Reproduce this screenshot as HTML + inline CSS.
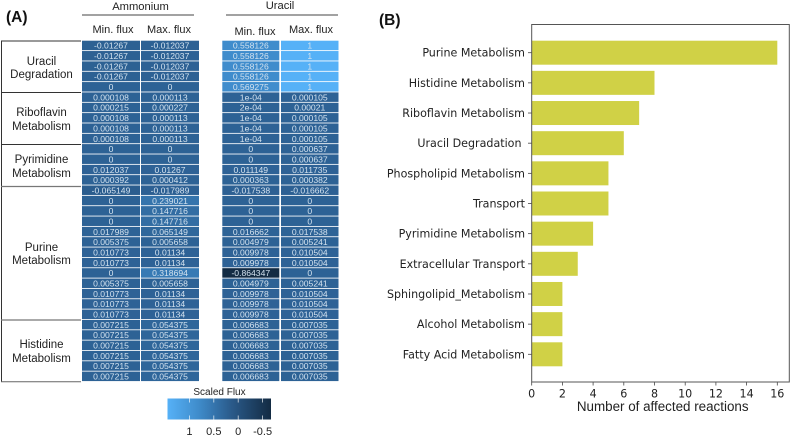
<!DOCTYPE html>
<html lang="en">
<head>
<meta charset="utf-8">
<title>Flux heatmap and affected reactions</title>
<style>
html,body{margin:0;padding:0;background:#fff;width:793px;height:436px;overflow:hidden}
svg{display:block;font-family:"Liberation Sans",sans-serif}
</style>
</head>
<body>
<svg id="fig" width="793" height="436" viewBox="0 0 793 436" xmlns="http://www.w3.org/2000/svg">
  <defs>
    <linearGradient id="legendGrad" x1="0" x2="1" y1="0" y2="0">
      <stop offset="0" stop-color="#56b1f7"/>
      <stop offset="0.3" stop-color="#3f8ccb"/>
      <stop offset="0.62" stop-color="#2a5a8a"/>
      <stop offset="1" stop-color="#132b43"/>
    </linearGradient>
  </defs>
  <text x="6" y="22" font-size="15.5" font-weight="bold" fill="#111">(A)</text>
  <text x="379" y="25" font-size="15.5" font-weight="bold" fill="#111">(B)</text>

  <text x="140.5" y="10" font-size="11.2" text-anchor="middle" fill="#222">Ammonium</text>
  <line x1="82" x2="194" y1="15" y2="15" stroke="#444" stroke-width="1"/>
  <text x="280" y="9" font-size="11.2" text-anchor="middle" fill="#222">Uracil</text>
  <line x1="226" x2="338" y1="15" y2="15" stroke="#444" stroke-width="1"/>
  <text x="113" y="33" font-size="11" text-anchor="middle" fill="#222">Min. flux</text>
  <text x="169" y="33" font-size="11" text-anchor="middle" fill="#222">Max. flux</text>
  <text x="255" y="35" font-size="11" text-anchor="middle" fill="#222">Min. flux</text>
  <text x="311" y="33" font-size="11" text-anchor="middle" fill="#222">Max. flux</text>

  <g fill="#222" font-size="11.5" text-anchor="middle">
    <line x1="1.5" x2="1.5" y1="41" y2="382" stroke="#333" stroke-width="1"/>
    <line x1="1" x2="81" y1="41" y2="41" stroke="#333" stroke-width="1"/>
    <line x1="1" x2="81" y1="92.5" y2="92.5" stroke="#333" stroke-width="1"/>
    <line x1="1" x2="81" y1="144.5" y2="144.5" stroke="#333" stroke-width="1"/>
    <line x1="1" x2="81" y1="186.5" y2="186.5" stroke="#777" stroke-width="1.2"/>
    <line x1="1" x2="81" y1="320" y2="320" stroke="#777" stroke-width="1.2"/>
    <line x1="1" x2="81" y1="381.7" y2="381.7" stroke="#666" stroke-width="1"/>
    <text x="41.5" y="65">Uracil</text>
    <text x="41.5" y="78">Degradation</text>
    <text x="41.5" y="116">Riboflavin</text>
    <text x="41.5" y="130">Metabolism</text>
    <text x="41.5" y="163">Pyrimidine</text>
    <text x="41.5" y="177">Metabolism</text>
    <text x="41.5" y="251">Purine</text>
    <text x="41.5" y="264">Metabolism</text>
    <text x="41.5" y="348">Histidine</text>
    <text x="41.5" y="362">Metabolism</text>
  </g>

  <g id="heatmap"></g>

  <g>
    <text x="219.5" y="395" font-size="10" text-anchor="middle" fill="#222">Scaled Flux</text>
    <rect x="167.5" y="398.5" width="103.5" height="21" fill="url(#legendGrad)"/>
    <g id="legendTicks"></g>
  </g>

  <g id="bars"></g>
  <rect x="531.7" y="24.5" width="257.6" height="357.5" fill="none" stroke="#555" stroke-width="1"/>
  <text x="662.7" y="411" font-size="13.4" text-anchor="middle" fill="#222">Number of affected reactions</text>
</svg>
<script>
var ammoniumMin = ["-0.01267","-0.01267","-0.01267","-0.01267","0","0.000108","0.000215","0.000108","0.000108","0.000108","0","0","0.012037","0.000392","-0.065149","0","0","0","0.017989","0.005375","0.010773","0.010773","0","0.005375","0.010773","0.010773","0.010773","0.007215","0.007215","0.007215","0.007215","0.007215","0.007215"];
var ammoniumMax = ["-0.012037","-0.012037","-0.012037","-0.012037","0","0.000113","0.000227","0.000113","0.000113","0.000113","0","0","0.01267","0.000412","-0.017989","0.239021","0.147716","0.147716","0.065149","0.005658","0.01134","0.01134","0.318694","0.005658","0.01134","0.01134","0.01134","0.054375","0.054375","0.054375","0.054375","0.054375","0.054375"];
var uracilMin = ["0.558126","0.558126","0.558126","0.558126","0.569275","1e-04","2e-04","1e-04","1e-04","1e-04","0","0","0.011149","0.000363","-0.017538","0","0","0","0.016662","0.004979","0.009978","0.009978","-0.864347","0.004979","0.009978","0.009978","0.009978","0.006683","0.006683","0.006683","0.006683","0.006683","0.006683"];
var uracilMax = ["1","1","1","1","1","0.000105","0.00021","0.000105","0.000105","0.000105","0.000637","0.000637","0.011735","0.000382","-0.016662","0","0","0","0.017538","0.005241","0.010504","0.010504","0","0.005241","0.010504","0.010504","0.010504","0.007035","0.007035","0.007035","0.007035","0.007035","0.007035"];
var legendValues = [1, 0.5, 0, -0.5];
var legendLabels = ["1", "0.5", "0", "-0.5"];
var barCategories = ["Purine Metabolism","Histidine Metabolism","Riboflavin Metabolism","Uracil Degradation ","Phospholipid Metabolism","Transport","Pyrimidine Metabolism","Extracellular Transport","Sphingolipid_Metabolism","Alcohol Metabolism","Fatty Acid Metabolism"];
var barValues = [16, 8, 7, 6, 5, 5, 4, 3, 2, 2, 2];
var xTicks = [0, 2, 4, 6, 8, 10, 12, 14, 16];

var NS = "http://www.w3.org/2000/svg";
function make(parent, tag, attrs, text) {
  var el = document.createElementNS(NS, tag);
  for (var k in attrs) el.setAttribute(k, attrs[k]);
  if (text !== undefined) el.textContent = text;
  parent.appendChild(el);
  return el;
}
function hex(c) { return [parseInt(c.substr(1,2),16), parseInt(c.substr(3,2),16), parseInt(c.substr(5,2),16)]; }
var rampT = [0, 0.46, 0.76, 1];
var rampC = ["#132b43", "#2d6194", "#3f8ccb", "#56b1f7"];
function fluxColor(v) {
  var t = Math.max(0, Math.min(1, (v + 0.864347) / 1.864347));
  for (var i = 0; i < rampT.length - 1; i++) {
    if (t <= rampT[i + 1]) {
      var f = (t - rampT[i]) / (rampT[i + 1] - rampT[i]);
      var a = hex(rampC[i]), b = hex(rampC[i + 1]);
      return "rgb(" + Math.round(a[0] + (b[0]-a[0])*f) + "," + Math.round(a[1] + (b[1]-a[1])*f) + "," + Math.round(a[2] + (b[2]-a[2])*f) + ")";
    }
  }
  return rampC[3];
}
function rowY(i) { return 40.7 + i * 10.34; }

var heat = document.getElementById("heatmap");
var heatCols = [
  {vals: ammoniumMin, x: 82, w: 58, key: "ammonium-min"},
  {vals: ammoniumMax, x: 141, w: 58, key: "ammonium-max"},
  {vals: uracilMin, x: 222.3, w: 57, key: "uracil-min"},
  {vals: uracilMax, x: 281, w: 57.5, key: "uracil-max"}
];
heatCols.forEach(function (col) {
  col.vals.forEach(function (label, i) {
    var v = parseFloat(label);
    var r = make(heat, "rect", {x: col.x, y: rowY(i), width: col.w, height: 9.5, fill: fluxColor(v)});
    
    
    var t = make(heat, "text", {x: col.x + col.w / 2, y: rowY(i) + 8, "font-size": 8.6, "text-anchor": "middle", fill: "#d3e2ef"}, label);
    
    
  });
});

var lt = document.getElementById("legendTicks");
function legendX(v) { return 238.2 - v * 48.8; }
legendValues.forEach(function (v, i) {
  var x = legendX(v);
  var a = make(lt, "line", {x1: x, x2: x, y1: 398.5, y2: 402.5, stroke: "#fff", "stroke-opacity": 0.8, "stroke-width": 0.8});
  
  
  var b = make(lt, "line", {x1: x, x2: x, y1: 415.5, y2: 419.5, stroke: "#fff", "stroke-opacity": 0.8, "stroke-width": 0.8});
  
  
  var t = make(lt, "text", {x: x, y: 435, "font-size": 11, "text-anchor": "middle", fill: "#222"}, legendLabels[i]);
  
  
});

var bars = document.getElementById("bars");
function xScale(v) { return 531.7 + v * 15.35; }
function yBand(i) { return 52.7 + i * 30.16; }
var barH = 24;
barCategories.forEach(function (name, i) {
  var y = yBand(i);
  var r = make(bars, "rect", {x: xScale(0), y: y - barH / 2, width: xScale(barValues[i]) - xScale(0), height: barH, fill: "#d0d146"});
  
  
  var tk = make(bars, "line", {x1: 528, x2: 531.7, y1: y, y2: y, stroke: "#444", "stroke-width": 0.8});
  
  
  var t = make(bars, "text", {x: 525, y: y + 4, "font-size": 11.1, "text-anchor": "end", fill: "#222", "font-family": '"DejaVu Sans",sans-serif'}, name.trim());
  if (name !== name.trim()) t.setAttribute("x", 521.5);
  
  
});
xTicks.forEach(function (v) {
  var x = xScale(v);
  var tk = make(bars, "line", {x1: x, x2: x, y1: 382, y2: 385.5, stroke: "#444", "stroke-width": 0.8});
  
  
  var t = make(bars, "text", {x: x, y: 397.7, "font-size": 11.1, "text-anchor": "middle", fill: "#222", "font-family": '"DejaVu Sans",sans-serif'}, String(v));
  
  
});
</script>
</body>
</html>
